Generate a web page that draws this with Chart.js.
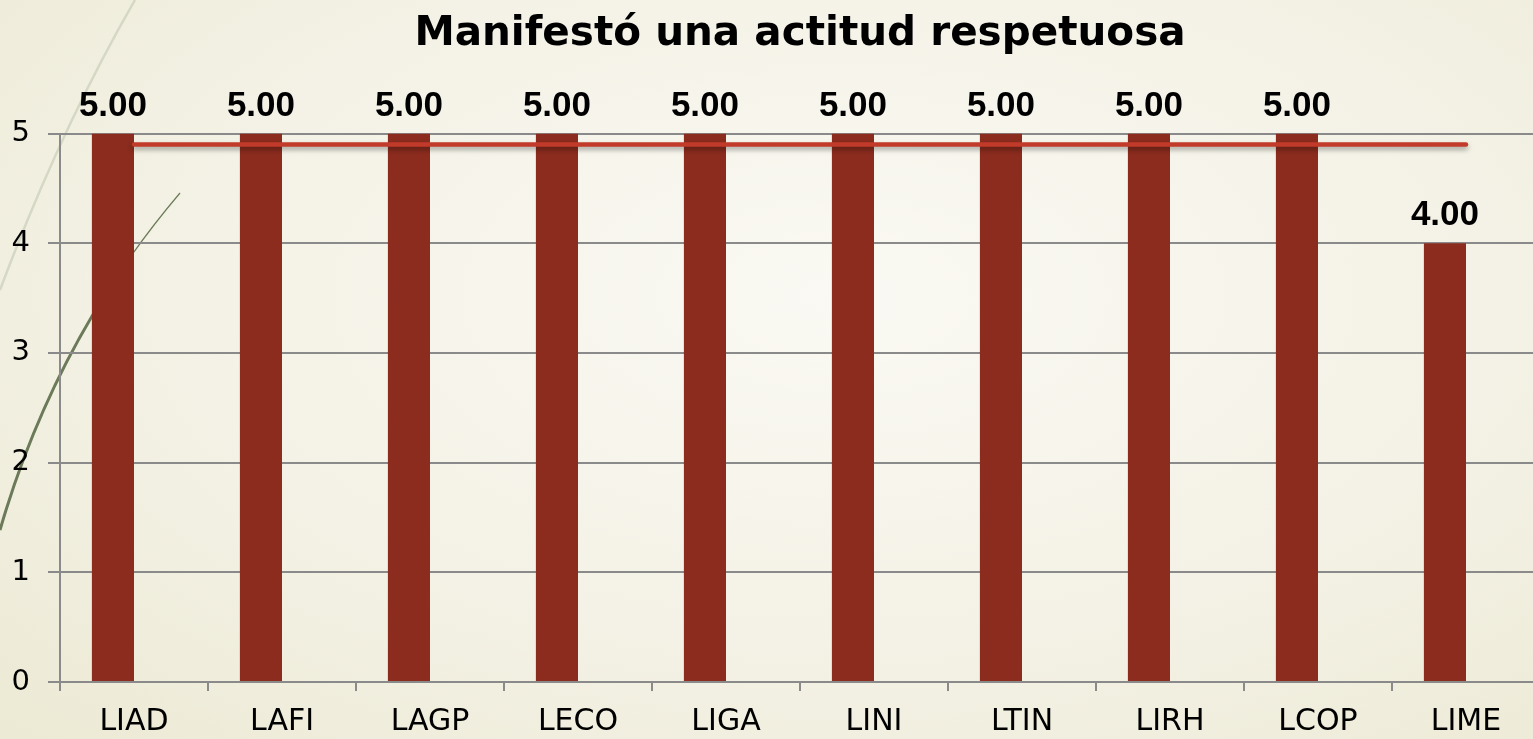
<!DOCTYPE html>
<html>
<head>
<meta charset="utf-8">
<script src="https://cdn.jsdelivr.net/npm/chart.js@4.4.0/dist/chart.umd.min.js"></script>
<style>
    html, body { margin: 0; padding: 0; overflow: hidden; }
    body {
        width: 1533px; height: 739px; position: relative;
        background: radial-gradient(ellipse at 55% 40%, #faf9f3 0%, #f4f2e6 55%, #ece9d4 100%);
    }
    #fondo { position: absolute; left: 0; top: 0; }
    #GraficoActitud { position: absolute; left: 0; top: 0; }
</style>
</head>
<body>
<!-- lineas decorativas del tema -->
<svg id="fondo" width="1533" height="739">
    <defs>
        <clipPath id="izq"><rect x="0" y="0" width="92" height="739"/></clipPath>
    </defs>
    <path d="M135,0 Q60,130 0,290" stroke="#d6d8c6" stroke-width="2.5" fill="none"/>
    <path d="M180,193 Q55,340 0,530" stroke="#6b7a58" stroke-width="1.2" fill="none"/>
    <path d="M180,193 Q55,340 0,530" stroke="#6b7a58" stroke-width="3" fill="none" clip-path="url(#izq)"/>
</svg>
<canvas id="GraficoActitud" width="1540" height="739" style="width: 1540px; height: 739px;"></canvas>
<script>
var carreras = ['LIAD', 'LAFI', 'LAGP', 'LECO', 'LIGA', 'LINI', 'LTIN', 'LIRH', 'LCOP', 'LIME'];
var valores = [5, 5, 5, 5, 5, 5, 5, 5, 5, 4];
var promedio = [4.9, 4.9, 4.9, 4.9, 4.9, 4.9, 4.9, 4.9, 4.9, 4.9];
var vacio = [null, null, null, null, null, null, null, null, null, null];
var ticksY = [0, 1, 2, 3, 4, 5];

// etiquetas de valor encima de las barras
var etiquetasBarras = {
    id: 'etiquetasBarras',
    afterDatasetsDraw: function (chart) {
        var ctx = chart.ctx;
        var meta = chart.getDatasetMeta(1);
        ctx.save();
        ctx.font = 'bold 35px "Liberation Sans", Arial, sans-serif';
        ctx.fillStyle = '#000000';
        ctx.textAlign = 'center';
        ctx.textBaseline = 'alphabetic';
        meta.data.forEach(function (barra, i) {
            ctx.fillText(valores[i].toFixed(2), barra.x, barra.y - 18);
        });
        ctx.restore();
    }
};

// sombra de la linea de promedio
var sombraLinea = {
    id: 'sombraLinea',
    beforeDatasetDraw: function (chart, args) {
        if (args.index === 0) {
            chart.ctx.save();
            chart.ctx.shadowColor = 'rgba(0, 0, 0, 0.35)';
            chart.ctx.shadowBlur = 5;
            chart.ctx.shadowOffsetY = 3;
        }
    },
    afterDatasetDraw: function (chart, args) {
        if (args.index === 0) {
            chart.ctx.restore();
        }
    }
};

var ctx = document.getElementById('GraficoActitud').getContext('2d');

var grafico = new Chart(ctx, {
    data: {
        labels: carreras,
        datasets: [{
            type: 'line',
            label: 'Promedio',
            data: promedio,
            borderColor: '#c23b2a',
            borderWidth: 4.5,
            pointRadius: 0,
            borderCapStyle: 'round',
            fill: false,
            order: 0
        }, {
            type: 'bar',
            label: 'Manifestó una actitud respetuosa',
            data: valores,
            backgroundColor: '#8b2c1e',
            categoryPercentage: 0.569,
            barPercentage: 1,
            order: 1
        }, {
            type: 'bar',
            label: 'vacio',
            data: vacio,
            backgroundColor: '#8b2c1e',
            categoryPercentage: 0.569,
            barPercentage: 1,
            order: 1
        }]
    },
    options: {
        responsive: false,
        animation: false,
        layout: { padding: { top: 0, left: 0, right: 0, bottom: 0 } },
        plugins: {
            legend: { display: false },
            tooltip: { enabled: false },
            title: {
                display: true,
                fullSize: false,
                text: 'Manifestó una actitud respetuosa',
                color: '#000000',
                font: { family: '"DejaVu Sans", sans-serif', size: 40.5, weight: 'bold' },
                padding: { top: 10, bottom: 75 }
            }
        },
        scales: {
            x: {
                offset: true,
                grid: {
                    offset: true,
                    drawOnChartArea: false,
                    drawTicks: true,
                    tickLength: 9,
                    color: '#8a8a8a',
                    lineWidth: 2
                },
                border: { color: '#8a8a8a', width: 2 },
                ticks: {
                    color: '#000000',
                    padding: 13,
                    font: { family: '"DejaVu Sans", sans-serif', size: 30 }
                },
                afterFit: function (escala) { escala.height = 57; }
            },
            y: {
                min: 0,
                max: 5,
                afterBuildTicks: function (escala) {
                    escala.ticks = ticksY.map(function (v) { return { value: v }; });
                },
                grid: {
                    color: '#8a8a8a',
                    lineWidth: 2,
                    tickLength: 12
                },
                border: { color: '#8a8a8a', width: 2 },
                ticks: {
                    color: '#000000',
                    padding: 18,
                    font: { family: '"DejaVu Sans", sans-serif', size: 29 }
                },
                afterFit: function (escala) { escala.width = 60; }
            }
        }
    },
    plugins: [etiquetasBarras, sombraLinea]
});
</script>
</body>
</html>
